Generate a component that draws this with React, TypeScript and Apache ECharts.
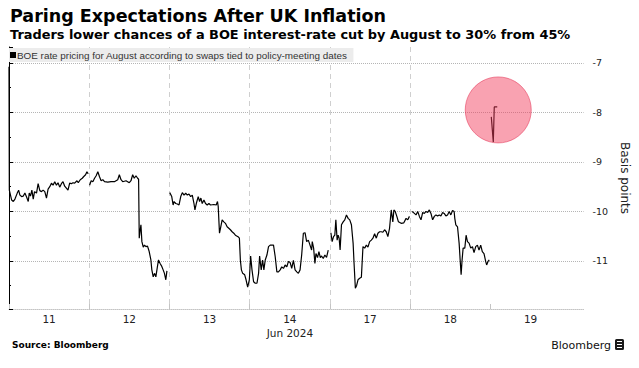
import React, { useEffect, useRef } from 'react';
import * as echarts from 'echarts';

const titleText = 'Paring Expectations After UK Inflation';
const subtitleText = 'Traders lower chances of a BOE interest-rate cut by August to 30% from 45%';
const seriesName = 'BOE rate pricing for August according to swaps tied to policy-meeting dates';
const sourceText = 'Source: Bloomberg';
const dayLabels = ['11', '12', '13', '14', '17', '18', '19'];
const monthLabel = 'Jun 2024';
const monthUnderIndex = 3;
const yAxisName = 'Basis points';

// [day position (0 = start of Jun 11 session), bp]
const jun11: [number, number][] = [[0.000,-7.08],[0.004,-9.57],[0.033,-9.77],[0.054,-9.80],[0.074,-9.75],[0.103,-9.63],[0.120,-9.57],[0.136,-9.67],[0.157,-9.70],[0.178,-9.69],[0.198,-9.63],[0.219,-9.71],[0.240,-9.80],[0.252,-9.63],[0.268,-9.69],[0.285,-9.57],[0.302,-9.75],[0.318,-9.60],[0.343,-9.63],[0.363,-9.44],[0.384,-9.58],[0.405,-9.60],[0.425,-9.57],[0.446,-9.60],[0.467,-9.73],[0.487,-9.55],[0.508,-9.50],[0.529,-9.43],[0.549,-9.47],[0.570,-9.40],[0.591,-9.47],[0.611,-9.42],[0.632,-9.51],[0.653,-9.44],[0.673,-9.40],[0.694,-9.49],[0.715,-9.53],[0.735,-9.57],[0.756,-9.43],[0.777,-9.44],[0.797,-9.42],[0.818,-9.43],[0.847,-9.38],[0.863,-9.42],[0.888,-9.36],[0.913,-9.33],[0.929,-9.30],[0.954,-9.26],[0.971,-9.20],[0.987,-9.24]];
const jun12: [number, number][] = [[1.004,-9.47],[1.024,-9.38],[1.045,-9.40],[1.066,-9.33],[1.086,-9.28],[1.107,-9.20],[1.128,-9.30],[1.148,-9.38],[1.169,-9.36],[1.190,-9.40],[1.231,-9.41],[1.272,-9.40],[1.313,-9.40],[1.355,-9.36],[1.375,-9.26],[1.396,-9.36],[1.417,-9.40],[1.458,-9.38],[1.499,-9.42],[1.520,-9.38],[1.541,-9.26],[1.561,-9.33],[1.582,-9.28],[1.603,-9.33],[1.615,-9.35],[1.623,-10.54],[1.632,-10.41],[1.644,-10.27],[1.656,-10.61],[1.673,-10.72],[1.689,-10.68],[1.706,-10.71],[1.726,-10.70],[1.747,-10.81],[1.768,-10.98],[1.780,-11.18],[1.797,-11.32],[1.813,-11.25],[1.830,-11.32],[1.850,-11.11],[1.863,-10.98],[1.883,-11.05],[1.904,-11.11],[1.921,-11.18],[1.937,-11.25],[1.954,-11.38],[1.968,-11.20]];
const jun13: [number, number][] = [[2.003,-9.62],[2.028,-9.70],[2.045,-9.87],[2.057,-9.80],[2.078,-9.84],[2.098,-9.85],[2.119,-9.87],[2.140,-9.70],[2.160,-9.62],[2.181,-9.67],[2.202,-9.63],[2.222,-9.67],[2.243,-9.65],[2.264,-9.70],[2.284,-9.67],[2.305,-9.84],[2.317,-9.97],[2.334,-9.84],[2.358,-9.70],[2.375,-9.80],[2.391,-9.73],[2.408,-9.84],[2.429,-9.77],[2.449,-9.84],[2.470,-9.87],[2.491,-9.84],[2.511,-9.87],[2.553,-9.86],[2.582,-9.87],[2.598,-9.80],[2.607,-9.90],[2.615,-10.17],[2.623,-10.44],[2.639,-10.31],[2.656,-10.17],[2.677,-10.21],[2.697,-10.24],[2.718,-10.31],[2.739,-10.34],[2.759,-10.37],[2.780,-10.41],[2.801,-10.44],[2.821,-10.48],[2.854,-10.51],[2.871,-10.54],[2.883,-10.98],[2.896,-11.18],[2.912,-11.25],[2.937,-11.28],[2.954,-11.38],[2.974,-11.53],[2.995,-11.38]];
const jun14: [number, number][] = [[3.011,-10.90],[3.028,-11.18],[3.048,-11.42],[3.069,-11.45],[3.090,-11.45],[3.110,-11.25],[3.123,-10.90],[3.143,-11.18],[3.160,-10.98],[3.176,-11.18],[3.193,-10.98],[3.214,-10.88],[3.234,-10.71],[3.255,-10.68],[3.296,-10.68],[3.317,-10.91],[3.338,-11.22],[3.358,-11.22],[3.379,-11.18],[3.399,-11.12],[3.420,-11.15],[3.441,-11.08],[3.462,-11.12],[3.482,-11.01],[3.503,-11.03],[3.523,-11.15],[3.544,-10.99],[3.565,-11.18],[3.586,-11.22],[3.606,-11.25],[3.627,-11.18],[3.647,-10.88],[3.668,-10.44],[3.689,-10.43],[3.709,-10.61],[3.730,-10.58],[3.751,-10.68],[3.771,-10.78],[3.779,-10.61],[3.796,-10.74],[3.812,-11.05],[3.825,-10.85],[3.845,-10.93],[3.862,-10.81],[3.879,-10.93],[3.895,-10.90],[3.916,-10.95],[3.936,-10.88],[3.957,-10.93],[3.978,-10.78]];
const jun17: [number, number][] = [[4.011,-10.43],[4.027,-10.61],[4.044,-10.51],[4.060,-10.48],[4.073,-10.17],[4.089,-10.58],[4.102,-10.48],[4.114,-10.54],[4.126,-10.78],[4.143,-10.27],[4.164,-10.21],[4.184,-10.17],[4.205,-10.07],[4.226,-10.14],[4.246,-10.17],[4.267,-10.27],[4.288,-10.64],[4.300,-11.05],[4.316,-11.55],[4.333,-11.49],[4.349,-11.38],[4.370,-11.35],[4.391,-11.33],[4.411,-10.71],[4.432,-10.74],[4.453,-10.68],[4.473,-10.72],[4.494,-10.61],[4.515,-10.58],[4.535,-10.54],[4.556,-10.45],[4.577,-10.54],[4.597,-10.44],[4.618,-10.41],[4.639,-10.41],[4.659,-10.42],[4.680,-10.37],[4.701,-10.41],[4.721,-10.51],[4.742,-10.34],[4.763,-9.97],[4.783,-10.21],[4.796,-9.97],[4.812,-10.00],[4.833,-10.10],[4.853,-10.21],[4.886,-10.24],[4.920,-10.23],[4.948,-10.14],[4.969,-10.17],[4.990,-10.10]];
const jun18: [number, number][] = [[5.023,-10.00],[5.052,-10.04],[5.072,-10.07],[5.093,-10.00],[5.114,-10.10],[5.134,-10.17],[5.155,-10.02],[5.176,-10.04],[5.196,-10.00],[5.217,-10.02],[5.238,-9.97],[5.258,-10.04],[5.279,-10.17],[5.300,-10.10],[5.320,-10.07],[5.341,-10.09],[5.361,-10.07],[5.382,-10.09],[5.403,-10.02],[5.423,-10.04],[5.444,-10.09],[5.465,-10.07],[5.485,-10.00],[5.506,-10.07],[5.527,-9.98],[5.547,-10.00],[5.555,-10.14],[5.568,-10.27],[5.589,-10.31],[5.609,-10.64],[5.622,-10.98],[5.634,-11.28],[5.646,-10.98],[5.659,-10.74],[5.680,-10.74],[5.696,-10.48],[5.713,-10.61],[5.733,-10.64],[5.754,-10.74],[5.775,-10.71],[5.795,-10.83],[5.816,-10.71],[5.837,-10.68],[5.857,-10.78],[5.878,-10.68],[5.898,-10.81],[5.919,-10.85],[5.940,-11.01],[5.952,-11.08],[5.969,-11.01],[5.985,-10.98]];
const jun19: [number, number][] = [[6.010,-8.09],[6.035,-8.60],[6.047,-7.89],[6.084,-7.89]];

// sessions drawn as separate stretches of line (Jun 13 runs straight into Jun 14)
const segments = [jun11, jun12, [...jun13, ...jun14], jun17, jun18, jun19];

const X_MIN = 0;
const X_MAX = 7.16;
const Y_MIN = -11.97;
const Y_MAX = -6.68;

const TEXT_FONT = "'DejaVu Sans', Verdana, sans-serif";
const NARROW_FONT = "'Liberation Sans', Arial, sans-serif";

export default function App() {
  const ref = useRef<HTMLDivElement>(null);

  useEffect(() => {
    if (!ref.current) return;
    const chart = echarts.init(ref.current, undefined, { renderer: 'svg' });

    const lineData: any[] = [];
    segments.forEach((seg, i) => {
      if (i > 0) lineData.push([seg[0][0], '-']);
      seg.forEach((p) => lineData.push(p));
    });
    const lastSeg = segments[segments.length - 1];
    const lastPoint = lastSeg[lastSeg.length - 1];

    const tickValues = dayLabels.map((_, i) => i);
    const labelValues = dayLabels.map((_, i) => i + 0.5);

    const gray = '#c4c4c4';
    const xSplitColors = [...tickValues.map(() => '#cfcfcf'), 'rgba(0,0,0,0)', 'rgba(0,0,0,0)'];
    const ySplitColors = ['#b5b5b5', '#b5b5b5', '#b5b5b5', '#b5b5b5', '#b5b5b5', '#b5b5b5', 'rgba(0,0,0,0)'];

    chart.setOption({
      animation: false,
      backgroundColor: '#ffffff',
      title: [
        {
          text: titleText,
          left: 10,
          top: 7.5,
          padding: 0,
          textStyle: { fontFamily: TEXT_FONT, fontWeight: 'bold', fontSize: 17.5, color: '#000', lineHeight: 17.5 },
        },
        {
          text: subtitleText,
          left: 10,
          top: 28,
          padding: 0,
          textStyle: { fontFamily: TEXT_FONT, fontWeight: 'bold', fontSize: 12.9, color: '#000', lineHeight: 12.9 },
        },
      ],
      legend: {
        data: [{ name: seriesName, icon: 'rect' }],
        left: 9,
        top: 48,
        padding: [2, 6, 2, 1],
        itemWidth: 6,
        itemHeight: 6,
        backgroundColor: '#ececec',
        selectedMode: false,
        textStyle: { fontFamily: NARROW_FONT, fontSize: 9.9, color: '#333', padding: [0, 0, 0, -4] },
      },
      grid: { left: 9, right: 52, top: 47, bottom: 59, containLabel: false },
      xAxis: {
        type: 'value',
        min: X_MIN,
        max: X_MAX,
        interval: 1,
        axisLine: { show: true, onZero: false, lineStyle: { color: gray, type: 'dotted', width: 1 } },
        axisTick: { show: true, inside: true, length: 5, customValues: tickValues, lineStyle: { color: gray } },
        axisLabel: {
          customValues: labelValues,
          margin: 3,
          fontFamily: TEXT_FONT,
          fontSize: 10.5,
          lineHeight: 14,
          color: '#222',
          formatter: (v: number) => {
            const i = Math.round(v - 0.5);
            if (Math.abs(v - 0.5 - i) > 1e-6 || i < 0 || i >= dayLabels.length) return '';
            return i === monthUnderIndex ? dayLabels[i] + '\n' + monthLabel : dayLabels[i];
          },
        },
        splitLine: { show: true, showMaxLine: false, lineStyle: { color: xSplitColors, type: [5, 4], width: 1 } },
      },
      yAxis: {
        type: 'value',
        position: 'right',
        min: Y_MIN,
        max: Y_MAX,
        splitNumber: 5,
        name: yAxisName,
        nameLocation: 'middle',
        nameRotate: -90,
        nameGap: 30,
        nameTextStyle: { fontFamily: TEXT_FONT, fontSize: 12, color: '#222' },
        axisLine: { show: true, lineStyle: { color: '#000', width: 1 } },
        axisTick: { show: true, length: 4, lineStyle: { color: '#000' } },
        minorTick: { show: true, splitNumber: 2, length: 2, lineStyle: { color: '#000' } },
        axisLabel: {
          margin: 9,
          fontFamily: TEXT_FONT,
          fontSize: 9.5,
          color: '#222',
          formatter: (v: number) => (Math.abs(v - Math.round(v)) < 1e-6 ? String(Math.round(v)) : ''),
        },
        splitLine: { show: true, showMaxLine: false, lineStyle: { color: ySplitColors, type: 'dotted', width: 1 } },
      },
      series: [
        {
          name: seriesName,
          type: 'line',
          data: lineData,
          showSymbol: false,
          symbol: 'none',
          connectNulls: false,
          color: '#000',
          lineStyle: { color: '#000', width: 1.2 },
          markPoint: {
            silent: true,
            symbol: 'circle',
            symbolSize: 66,
            label: { show: false },
            itemStyle: { color: 'rgba(243,61,91,0.48)', borderColor: 'rgba(225,40,75,0.5)', borderWidth: 1 },
            data: [{ coord: lastPoint, symbolOffset: [1, 3] }],
          },
        },
      ],
      graphic: [
        {
          type: 'text',
          left: 12,
          top: 340,
          style: { text: sourceText, fontFamily: TEXT_FONT, fontWeight: 'bold', fontSize: 9, fill: '#000' },
        },
        {
          type: 'text',
          x: 611,
          y: 345,
          style: {
            text: 'Bloomberg',
            fontFamily: TEXT_FONT,
            fontSize: 11,
            fill: '#111',
            textAlign: 'right',
            textVerticalAlign: 'middle',
          },
        },
        {
          type: 'group',
          x: 615,
          y: 339,
          children: [
            { type: 'rect', shape: { x: 0, y: 0, width: 9, height: 11, r: 1.5 }, style: { fill: '#1a1a1a' } },
            { type: 'rect', shape: { x: 2, y: 2, width: 5, height: 1 }, style: { fill: '#fff' } },
            { type: 'rect', shape: { x: 2, y: 5, width: 5, height: 1 }, style: { fill: '#fff' } },
            { type: 'rect', shape: { x: 2, y: 8, width: 5, height: 1 }, style: { fill: '#fff' } },
          ],
        },
      ],
    });

    return () => chart.dispose();
  }, []);

  return (
    <div
      ref={ref}
      style={{ position: 'fixed', left: 0, top: 0, width: 639, height: 368, background: '#fff' }}
    />
  );
}
